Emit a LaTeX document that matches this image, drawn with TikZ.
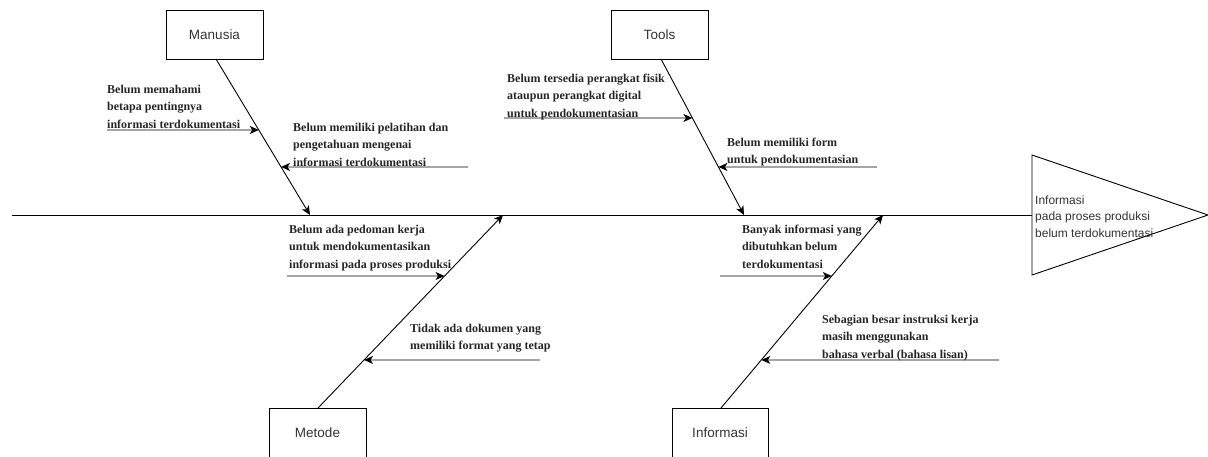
\documentclass[tikz,border=0pt]{standalone}
\usepackage{fontspec}
\setmainfont{Liberation Serif}
\newfontfamily\arialf{Liberation Sans}
\usetikzlibrary{arrows.meta}
\definecolor{txtgray}{HTML}{333333}
\begin{document}
\begin{tikzpicture}[x=1pt,y=-1pt,
  catbox/.style={draw=black,line width=0.9pt,minimum width=97pt,minimum height=49pt,inner sep=0pt,
    font=\arialf\fontsize{13.5}{16}\selectfont,text=txtgray},
  bone/.style={draw=black,line width=0.9pt,-{Stealth[length=9pt,width=8pt,inset=2.5pt]}},
  sub/.style={draw=black,line width=0.9pt,-{Stealth[length=9pt,width=8pt,inset=2.5pt]}},
  cause/.style={anchor=base west,inner sep=0pt,align=left,
    font=\bfseries\fontsize{12}{17.5}\selectfont,text=black!85},
  effect/.style={anchor=base west,inner sep=0pt,align=left,
    font=\arialf\fontsize{12}{16.5}\selectfont,text=txtgray}]
\useasboundingbox (0,0) rectangle (1208,456);

% spine and head
\coordinate (spineL) at (12,215);
\coordinate (headW) at (1032,215);
\draw[line width=0.9pt] (spineL) -- (headW);
\draw[line width=0.9pt] (1032,155) -- (1208,215) -- (1032,275) -- cycle;
\node[effect] (eff) at (1035,237) {Informasi\\pada proses produksi\\belum terdokumentasi};

% category boxes
\node[catbox] (man) at (214.5,34.5) {Manusia};
\node[catbox] (tool) at (659.5,34.5) {Tools};
\node[catbox] (met) at (317.5,432.5) {Metode};
\node[catbox,minimum width=96pt] (inf) at (720,432.5) {Informasi};

% bone end points
\coordinate (manS) at (216,59);
\coordinate (manE) at (310,215);
\coordinate (toolS) at (661,59);
\coordinate (toolE) at (744,215);
\coordinate (metS) at (318,408);
\coordinate (metE) at (503,215);
\coordinate (infS) at (721,408);
\coordinate (infE) at (883,215);

\draw[bone] (manS) -- (manE);
\draw[bone] (toolS) -- (toolE);
\draw[bone] (metS) -- (metE);
\draw[bone] (infS) -- (infE);

% points on bones
\path (manS) -- (manE) coordinate[pos=0.455] (m1) coordinate[pos=0.692] (m2);
\path (toolS) -- (toolE) coordinate[pos=0.378] (t1) coordinate[pos=0.692] (t2);
\path (metS) -- (metE) coordinate[pos=0.684] (d1) coordinate[pos=0.249] (d2);
\path (infS) -- (infE) coordinate[pos=0.684] (i1) coordinate[pos=0.249] (i2);

% free ends of sub arrows
\coordinate (m1s) at (107,130);
\coordinate (m2s) at (468,167);
\coordinate (t1s) at (504,118);
\coordinate (t2s) at (877,167);
\coordinate (d1s) at (287,276);
\coordinate (d2s) at (540,360);
\coordinate (i1s) at (720,276);
\coordinate (i2s) at (999,360);

\draw[sub] (m1s) -- (m1);
\draw[sub] (m2s) -- (m2);
\draw[sub] (t1s) -- (t1);
\draw[sub] (t2s) -- (t2);
\draw[sub] (d1s) -- (d1);
\draw[sub] (d2s) -- (d2);
\draw[sub] (i1s) -- (i1);
\draw[sub] (i2s) -- (i2);

% cause texts (anchor = baseline of last line)
\node[cause] (c1) at (107,128) {Belum memahami\\betapa pentingnya\\informasi terdokumentasi};
\node[cause] (c2) at (293,166) {Belum memiliki pelatihan dan\\pengetahuan mengenai\\informasi terdokumentasi};
\node[cause] (c3) at (507,117) {Belum tersedia perangkat fisik\\ataupun perangkat digital\\untuk pendokumentasian};
\node[cause] (c4) at (727,163.5) {Belum memiliki form\\untuk pendokumentasian};
\node[cause] (c5) at (289,268) {Belum ada pedoman kerja\\untuk mendokumentasikan\\informasi pada proses produksi};
\node[cause] (c6) at (410,349.5) {Tidak ada dokumen yang\\memiliki format yang tetap};
\node[cause] (c7) at (742,268) {Banyak informasi yang\\dibutuhkan belum\\terdokumentasi};
\node[cause] (c8) at (822,358) {Sebagian besar instruksi kerja\\masih menggunakan\\bahasa verbal (bahasa lisan)};
\end{tikzpicture}
\end{document}
